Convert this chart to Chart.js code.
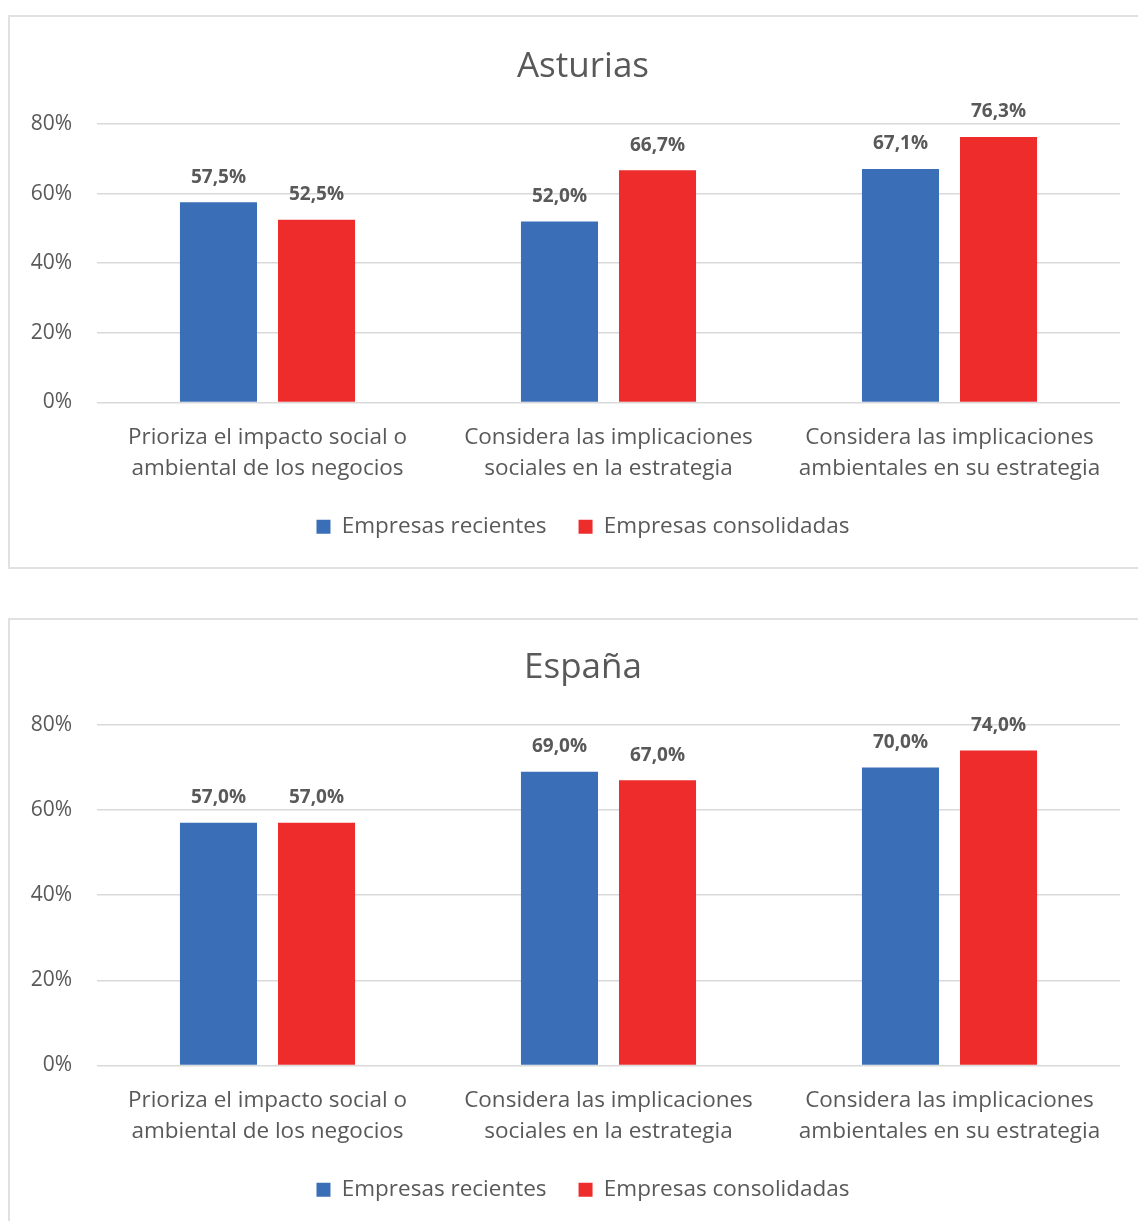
<!DOCTYPE html>
<html><head><meta charset="utf-8">
<script src="https://cdn.jsdelivr.net/npm/chart.js@4"></script>
<style>
body{margin:0;background:#fff;width:1138px;height:1221px;overflow:hidden;position:relative}
.box{position:absolute;left:8px;width:1146px;border:2px solid #e1e1e1;background:#fff}
#b1{top:15px;height:550px}
#b2{top:618px;height:610px}
canvas{display:block}
</style></head><body>
<div class="box" id="b1"><canvas id="c1" width="1146" height="550"></canvas></div>
<div class="box" id="b2"><canvas id="c2" width="1146" height="610"></canvas></div>
<script>
const categories = [
  ["Prioriza el impacto social o","ambiental de los negocios"],
  ["Considera las implicaciones","sociales en la estrategia"],
  ["Considera las implicaciones","ambientales en su estrategia"]
];
const seriesNames = ["Empresas recientes","Empresas consolidadas"];
const asturiasRecientes = [57.5, 52.0, 67.1];
const asturiasConsolidadas = [52.5, 66.7, 76.3];
const espanaRecientes = [57.0, 69.0, 70.0];
const espanaConsolidadas = [57.0, 67.0, 74.0];
const yMax = 80, yStep = 20;

const FONT = "'Open Sans', sans-serif";
const GRAY = '#595959';
const BLUE = '#3A6FB7';
const RED = '#EE2C2C';

const valueLabels = {
  id:'valueLabels',
  afterDatasetsDraw(chart){
    const ctx = chart.ctx;
    ctx.save();
    ctx.font = "bold 19px " + FONT;
    ctx.fillStyle = GRAY;
    ctx.textAlign = 'center';
    ctx.textBaseline = 'middle';
    chart.data.datasets.forEach((ds,i)=>{
      chart.getDatasetMeta(i).data.forEach((bar,j)=>{
        const txt = ds.data[j].toFixed(1).replace('.', ',') + '%';
        ctx.fillText(txt, bar.x, bar.y - 25);
      });
    });
    ctx.restore();
  }
};

function makeChart(id, title, rec, cons, titleTop){
  new Chart(document.getElementById(id), {
    type:'bar',
    data:{
      labels: categories,
      datasets:[
        {label:seriesNames[0], data:rec, backgroundColor:BLUE, barPercentage:0.786, categoryPercentage:0.575},
        {label:seriesNames[1], data:cons, backgroundColor:RED, barPercentage:0.786, categoryPercentage:0.575}
      ]
    },
    plugins:[valueLabels],
    options:{
      responsive:false,
      animation:false,
      layout:{padding:{top:8,right:0,bottom:19,left:0}},
      plugins:{
        title:{display:true, text:title, color:GRAY, font:{family:FONT,size:35,weight:'normal'}, padding:{top:titleTop,bottom:36}},
        legend:{position:'bottom', labels:{color:GRAY, font:{family:FONT,size:22.5}, boxWidth:14, boxHeight:14, padding:32}},
        tooltip:{enabled:false}
      },
      scales:{
        x:{
          grid:{display:false, drawTicks:false},
          border:{display:false},
          afterFit(s){ s.height -= 21; },
          ticks:{color:GRAY, font:{family:FONT,size:22.5,lineHeight:1.38}, padding:20, maxRotation:0}
        },
        y:{
          min:0, max:yMax,
          afterFit(s){ s.width = 87; },
          grid:{color:'#d9d9d9', lineWidth:1.5, drawTicks:false},
          border:{display:false},
          ticks:{stepSize:yStep, color:GRAY, font:{family:FONT,size:21}, padding:25, callback:v=>v+'%'}
        },
        yRight:{
          position:'right', min:0, max:yMax,
          afterFit(s){ s.width = 36; },
          grid:{display:false, drawTicks:false},
          border:{display:false},
          ticks:{display:false}
        }
      }
    }
  });
}
makeChart('c1','Asturias',asturiasRecientes,asturiasConsolidadas,21);
makeChart('c2','España',espanaRecientes,espanaConsolidadas,19);
</script>
</body></html>
